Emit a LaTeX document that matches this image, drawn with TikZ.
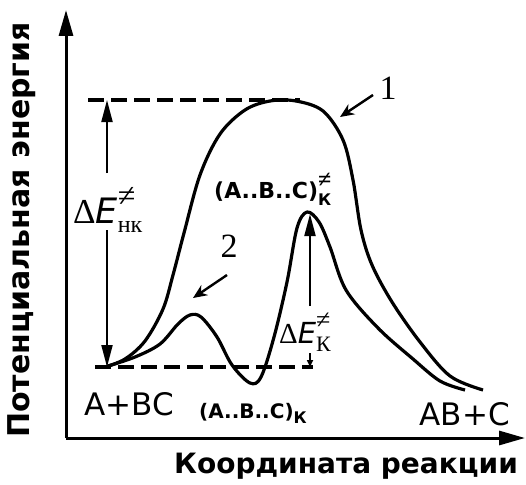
\documentclass[tikz,border=0pt]{standalone}
\usepackage{fontspec}
\setmainfont{DejaVu Sans}
\newfontfamily\serifcyr{Liberation Serif}
\usetikzlibrary{arrows.meta, positioning}
% text-font superscript and subscript pair
\newcommand{\supsub}[4]{\rlap{\raisebox{#3}{#1}}\raisebox{#4}{#2}}

\begin{document}
\begin{tikzpicture}[x=1pt, y=-1pt, >={Triangle[length=22pt,width=11pt]},
        axisline/.style={line width=3pt, -{Triangle[length=26pt,width=14pt]}},
        profile/.style={line width=3.2pt, line join=round},
        energyline/.style={line width=3.2pt, dash pattern=on 16pt off 7pt},
        marker/.style={line width=2pt, ->},
        pointer/.style={line width=2.4pt, -{Stealth[length=14pt,width=12pt]}},
        lbl/.style={inner sep=0pt, font=\fontsize{31}{32}\selectfont},
        cmplx/.style={inner sep=0pt, font=\bfseries\fontsize{22}{23}\selectfont}]
      \useasboundingbox (0,0) rectangle (526,484);

      % axes
      \coordinate (O) at (66,438);
      \draw[axisline] (O) -- (66,10);
      \draw[axisline] (O) -- (525,438);
      \node[rotate=90, font=\bfseries\fontsize{30}{32}\selectfont] (ylab) at (22,230) {Потенциальная энергия};
      \node[font=\bfseries\fontsize{28}{30}\selectfont] (xlab) at (346,466) {Координата реакции};

      % energy levels
      \draw[energyline] (88,100) -- (300,100);
      \draw[energyline] (95,367) -- (313,367);

      % profiles
      \draw[profile] plot[smooth, tension=0.55] coordinates {(105,367) (125,359) (145,341) (163,309)
          (173,275) (184,233) (200,175) (220,134) (245,110) (270,101) (296,101) (323,111)
          (343,140) (353,180) (361,230) (372,265) (392,302) (420,342) (450,376) (483,390)};
      \draw[profile] plot[smooth, tension=0.55] coordinates {(105,367) (135,357) (160,344) (178,324)
          (190,315) (201,317) (217,337) (232,365) (250,383) (261,377) (274,337) (287,282)
          (297,228) (307,212) (319,222) (330,247) (346,290) (378,328) (413,359) (440,381) (465,390)};

      % state labels
      \node[lbl, anchor=base west] (react) at (84,415) {A+BC};
      \node[lbl, anchor=base east] (prod) at (510,425) {AB+C};
      \node[cmplx, anchor=base west] (ts) at (214,198)
          {(A..B..C)\supsub{\serifcyr\fontsize{24}{24}\selectfont ≠}{\fontsize{16}{16}\selectfont К}{11pt}{-7pt}};
      \node[cmplx, anchor=base west, font=\bfseries\fontsize{20}{21}\selectfont] (im) at (199,418)
          {(A..B..C)\raisebox{-5pt}{\bfseries\fontsize{16}{16}\selectfont К}};

      % activation energies
      \node[inner sep=0pt, anchor=base west, font=\fontsize{35}{36}\selectfont] (dEnk) at (73,223)
          {{\serifcyr Δ}\textit{E}\supsub{\serifcyr\fontsize{32}{32}\selectfont ≠}{\serifcyr\fontsize{24}{24}\selectfont нк}{17pt}{-9pt}};
      \draw[marker] (107,173) -- (107,100);
      \draw[marker] (107,230) -- (107,367);
      \node[inner sep=0pt, anchor=base west, font=\fontsize{29}{30}\selectfont] (dEk) at (279,343)
          {{\serifcyr Δ}\textit{E}\supsub{\serifcyr\fontsize{26}{26}\selectfont ≠}{\serifcyr\fontsize{22}{22}\selectfont К}{15pt}{-8pt}};
      \draw[marker] (310,306) -- (310,214);
      \draw[line width=1.6pt, -{Triangle[length=7pt,width=6pt]}] (310,353) -- (310,367);

      % curve numbers
      \node[inner sep=0pt, font=\serifcyr\fontsize{34}{34}\selectfont] (n1) at (388,88) {1};
      \node[inner sep=0pt, font=\serifcyr\fontsize{34}{34}\selectfont] (n2) at (229,246) {2};
      \draw[pointer] (373,95) -- (340,117);
      \draw[pointer] (227,275) -- (193,298);
    \end{tikzpicture}
\end{document}
